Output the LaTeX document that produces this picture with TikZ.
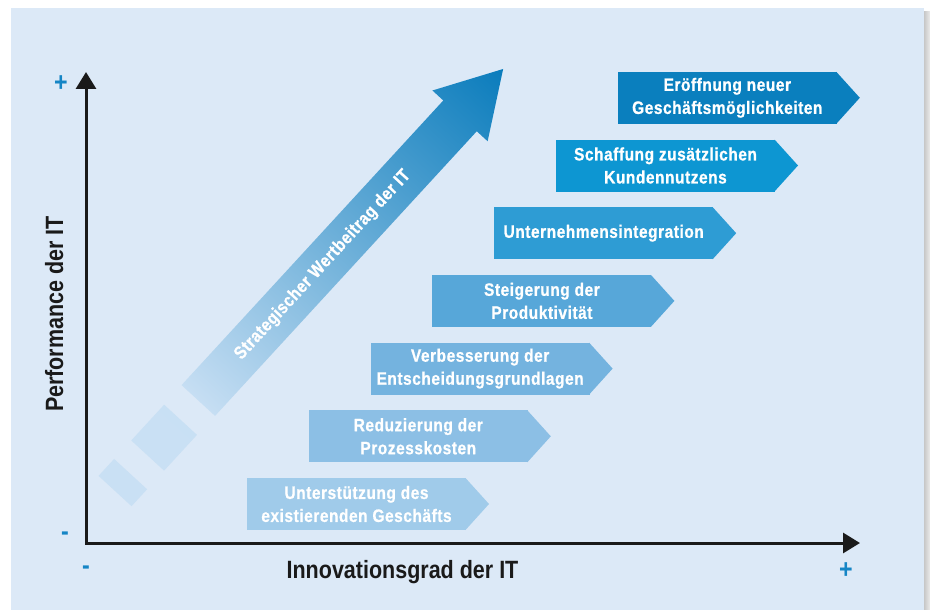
\documentclass[tikz,border=0pt]{standalone}
\usepackage{fontspec}
\setmainfont{Liberation Sans}[FakeStretch=0.86]
\newfontfamily\stagefont{Liberation Sans}[FakeStretch=0.86,LetterSpace=3,FakeBold=0.8]
\usetikzlibrary{arrows.meta}

\definecolor{bgblue}{HTML}{DCE9F7}
\definecolor{axisblack}{HTML}{1A1A1A}
\definecolor{signblue}{HTML}{1585C5}
\definecolor{stage0}{HTML}{A0CBEA}
\definecolor{stage1}{HTML}{8CBFE5}
\definecolor{stage2}{HTML}{74B3DF}
\definecolor{stage3}{HTML}{57A7D9}
\definecolor{stage4}{HTML}{2E9CD4}
\definecolor{stage5}{HTML}{0D96D2}
\definecolor{stage6}{HTML}{0A7FBE}
\definecolor{arrowlow}{HTML}{C6DEF3}
\definecolor{arrowmid}{HTML}{45A8DC}
\definecolor{arrowtop}{HTML}{0A7CBC}
\definecolor{ghost}{HTML}{C9E0F4}

\begin{document}
\begin{tikzpicture}[x=1pt, y=1pt,
    stage/.style={fill=#1, text=white, minimum width=219pt, minimum height=52pt,
        inner sep=0pt, outer sep=0pt, align=center,
        font=\stagefont\bfseries\fontsize{18}{23}\selectfont},
    axislabel/.style={text=axisblack, font=\bfseries\fontsize{25}{28}\selectfont},
    sign/.style={text=signblue, font=\bfseries\fontsize{27}{30}\selectfont}]

    % page and background
    \useasboundingbox (0,0) rectangle (930,-610);
    \fill[white] (0,0) rectangle (930,-610);
    \fill[bgblue] (11,-8) rectangle (924,-610);
    \shade[left color=black!22, right color=black!8] (924,-12) rectangle (930,-610);

    % growing arrow with two faded blocks
    \begin{scope}[transform canvas={shift={(198.3,-400.5)}, rotate=47.4}]
        \shade[left color=arrowlow, middle color=arrowmid, right color=arrowtop]
            (0,-22.75) -- (386.7,-22.75) -- (386.7,-37.5) -- (450.4,0)
            -- (386.7,37.5) -- (386.7,22.75) -- (0,22.75) -- cycle;
        \shade[left color=ghost, right color=ghost!80!arrowlow] (-74.8,-22.3) rectangle (-26.2,22.3);
        \fill[ghost] (-123,-22.4) rectangle (-100,22.4);
        \node[text=white, font=\stagefont\bfseries\fontsize{18}{23}\selectfont] (wert) at (184,0)
            {Strategischer Wertbeitrag der IT};
    \end{scope}

    % stages
    \node[stage=stage0] (s0) at (356.5,-504.0) {Unterstützung des\\existierenden Geschäfts};
    \node[stage=stage1] (s1) at (418.3,-436.3) {Reduzierung der\\Prozesskosten};
    \node[stage=stage2] (s2) at (480.1,-368.6) {Verbesserung der\\Entscheidungsgrundlagen};
    \node[stage=stage3] (s3) at (541.9,-300.9) {Steigerung der\\Produktivität};
    \node[stage=stage4] (s4) at (603.7,-233.2) {Unternehmensintegration};
    \node[stage=stage5] (s5) at (665.5,-165.5) {Schaffung zusätzlichen\\Kundennutzens};
    \node[stage=stage6] (s6) at (727.3,-97.8) {Eröffnung neuer\\Geschäftsmöglichkeiten};

    \fill[stage0] ([xshift=-0.5pt]s0.north east) -- ([xshift=23pt]s0.east) -- ([xshift=-0.5pt]s0.south east) -- cycle;
    \fill[stage1] ([xshift=-0.5pt]s1.north east) -- ([xshift=23pt]s1.east) -- ([xshift=-0.5pt]s1.south east) -- cycle;
    \fill[stage2] ([xshift=-0.5pt]s2.north east) -- ([xshift=23pt]s2.east) -- ([xshift=-0.5pt]s2.south east) -- cycle;
    \fill[stage3] ([xshift=-0.5pt]s3.north east) -- ([xshift=23pt]s3.east) -- ([xshift=-0.5pt]s3.south east) -- cycle;
    \fill[stage4] ([xshift=-0.5pt]s4.north east) -- ([xshift=23pt]s4.east) -- ([xshift=-0.5pt]s4.south east) -- cycle;
    \fill[stage5] ([xshift=-0.5pt]s5.north east) -- ([xshift=23pt]s5.east) -- ([xshift=-0.5pt]s5.south east) -- cycle;
    \fill[stage6] ([xshift=-0.5pt]s6.north east) -- ([xshift=23pt]s6.east) -- ([xshift=-0.5pt]s6.south east) -- cycle;

    % axes
    \coordinate (origin) at (86,-543);
    \coordinate (ytop) at (86,-72);
    \coordinate (xend) at (860,-543);
    \draw[axisblack, line width=3pt, line join=miter,
        {Triangle[width=20pt,length=17pt]}-{Triangle[width=20pt,length=17pt]}]
        (ytop) -- (origin) -- (xend);

    \node[axislabel, rotate=90, anchor=base] (perf) at (63,-314) {Performance der IT};
    \node[axislabel, anchor=base] (innov) at (402.5,-578) {Innovationsgrad der IT};

    \node[sign] (yplus) at (61,-84) {+};
    \node[sign] (yminus) at (65,-536) {-};
    \node[sign] (xminus) at (86,-570) {-};
    \node[sign] (xplus) at (846,-571) {+};
\end{tikzpicture}
\end{document}
